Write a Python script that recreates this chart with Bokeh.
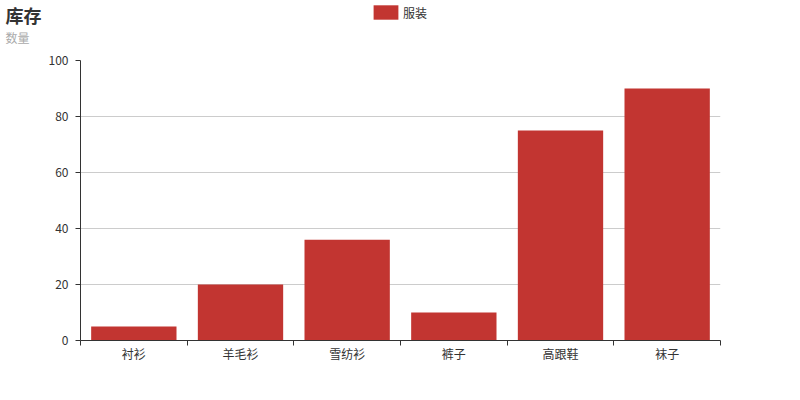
from bokeh.plotting import figure
from bokeh.layouts import column
from bokeh.models import (ColumnDataSource, Range1d, FixedTicker, Label, Legend, LegendItem)
from bokeh.embed import file_html
from bokeh.resources import INLINE

categories = ["衬衫", "羊毛衫", "雪纺衫", "裤子", "高跟鞋", "袜子"]
values = [5, 20, 36, 10, 75, 90]
series_name = "服装"
title_text = "库存"
subtitle_text = "数量"
y_ticks = [0, 20, 40, 60, 80, 100]

FONT = "Noto Sans CJK SC"
COLOR = "#c23531"
W = 800
HEAD_H = 50
BODY_H = 350

xs = [i + 0.5 for i in range(len(categories))]
src = ColumnDataSource(dict(x=xs, top=values, name=categories))

# ---------- header: title, subtitle, legend (frame = whole header, 1 unit = 1 px) ----------
head = figure(width=W, height=HEAD_H, output_backend="svg", toolbar_location=None,
              x_range=Range1d(0, W), y_range=Range1d(HEAD_H, 0),
              x_axis_type=None, y_axis_type=None, min_border=0)
head.frame_align = False
head.outline_line_color = None
head.background_fill_color = "white"
head.border_fill_color = "white"
head.grid.visible = False

t1 = Label(x=5, y=14, text=title_text,
           text_font=FONT, text_font_size="18px", text_font_style="bold",
           text_color="#333333", text_baseline="middle")
t2 = Label(x=5, y=37, text=subtitle_text,
           text_font=FONT, text_font_size="12px", text_color="#aaaaaa", text_baseline="middle")
head.add_layout(t1)
head.add_layout(t2)

# hidden copy of the series, used only to draw the legend swatch
key = head.vbar(x="x", top="top", width=0.8, source=src, fill_color=COLOR,
                line_color=None, border_radius=4, visible=False)
legend = Legend(items=[LegendItem(label=series_name, renderers=[key])],
                location=(370, HEAD_H - 21), orientation="horizontal",
                glyph_width=31, glyph_height=18, label_text_font=FONT,
                label_text_font_size="12px", label_text_color="#333333",
                padding=0, margin=0, spacing=0, label_standoff=2,
                label_height=18, inactive_fill_alpha=0,
                border_line_color=None, background_fill_alpha=0)
head.add_layout(legend)

# ---------- chart body ----------
p = figure(width=W, height=BODY_H, output_backend="svg", toolbar_location=None,
           x_range=Range1d(0, len(categories)), y_range=Range1d(0, 100),
           min_border_left=80, min_border_right=80, min_border_top=10, min_border_bottom=60)
p.frame_align = False
p.outline_line_color = None
p.background_fill_color = "white"
p.border_fill_color = "white"

p.vbar(x="x", top="top", width=0.8, bottom=0, source=src, fill_color=COLOR, line_color=None)

p.xaxis.ticker = FixedTicker(ticks=xs, minor_ticks=list(range(len(categories) + 1)))
p.xaxis.major_label_overrides = {x: c for x, c in zip(xs, categories)}
p.xaxis.major_tick_line_color = None
p.xaxis.major_tick_out = 0
p.xaxis.major_tick_in = 0
p.xaxis.minor_tick_line_color = "#333333"
p.xaxis.minor_tick_out = 5
p.xaxis.minor_tick_in = 0
p.xaxis.axis_line_color = "#333333"
p.xaxis.major_label_text_font = FONT
p.xaxis.major_label_text_font_size = "12px"
p.xaxis.major_label_text_color = "#333333"
p.xaxis.major_label_standoff = -1

p.yaxis.ticker = FixedTicker(ticks=y_ticks)
p.yaxis.major_tick_out = 5
p.yaxis.major_tick_in = 0
p.yaxis.minor_tick_line_color = None
p.yaxis.axis_line_color = "#333333"
p.yaxis.major_tick_line_color = "#333333"
p.yaxis.major_label_text_font = FONT
p.yaxis.major_label_text_font_size = "12px"
p.yaxis.major_label_text_color = "#333333"
p.yaxis.major_label_standoff = 7

p.xgrid.grid_line_color = None
p.ygrid.grid_line_color = "#cccccc"
p.ygrid.ticker = FixedTicker(ticks=y_ticks)

page = column(head, p, spacing=0)
open("out.html", "w").write(file_html(page, INLINE))
